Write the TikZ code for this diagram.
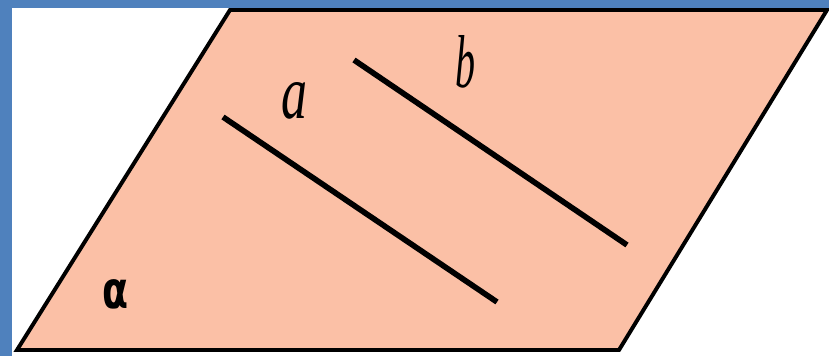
\documentclass[tikz,border=0pt]{standalone}
\usepackage{fontspec}
\usepackage{graphicx}
\newfontfamily\dejavu{DejaVu Sans}
\newfontfamily\libserif{Liberation Serif}
\definecolor{frameblue}{RGB}{79,129,189}
\definecolor{planefill}{RGB}{251,192,166}
\tikzset{
  plane/.style={fill=planefill, draw=black, line width=2.8pt, line join=miter},
  linestyle/.style={draw=black, line width=4pt},
  lbl/.style={inner sep=0pt, outer sep=0pt}
}
\begin{document}
\begin{tikzpicture}[x=0.025cm, y=-0.025cm]
\useasboundingbox (0,0) rectangle (829,356);
\fill[white] (0,0) rectangle (829,356);
% blue frame
\fill[frameblue] (0,0) rectangle (829,8);
\fill[frameblue] (0,0) rectangle (12,356);
% plane
\coordinate (p1) at (230,10);
\coordinate (p2) at (827,10);
\coordinate (p3) at (619,350);
\coordinate (p4) at (17,350);
\draw[plane] (p1) -- (p2) -- (p3) -- (p4) -- cycle;
% lines
\coordinate (a1) at (223,117);
\coordinate (a2) at (497,302);
\coordinate (b1) at (354,60);
\coordinate (b2) at (627,245);
\draw[linestyle] (a1) -- (a2);
\draw[linestyle] (b1) -- (b2);
% labels
\node[lbl] (la) at (294,101) {\resizebox{0.65cm}{0.9cm}{\libserif\itshape a}};
\node[lbl] (lb) at (465,62) {\resizebox{0.5cm}{1.3cm}{\libserif\itshape b}};
\node[lbl] (lalpha) at (116,294.5) {\resizebox{0.65cm}{0.725cm}{\dejavu\bfseries α}};
\end{tikzpicture}
\end{document}
